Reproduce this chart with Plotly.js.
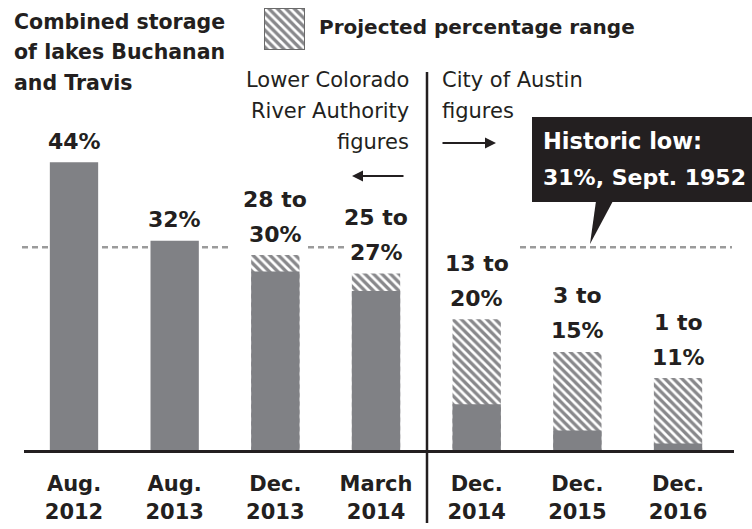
<!DOCTYPE html>
<html>
<head>
<meta charset="utf-8">
<script src="https://cdn.plot.ly/plotly-3.0.1.min.js"></script>
<style>
  html, body { margin: 0; padding: 0; background: #ffffff; }
  #chart { width: 752px; height: 529px; }
</style>
</head>
<body>
<div id="chart"></div>
<script>
// ---- data ----
const months = ['Aug.', 'Aug.', 'Dec.', 'March', 'Dec.', 'Dec.', 'Dec.'];
const years = ['2012', '2013', '2013', '2014', '2014', '2015', '2016'];
const solidValues = [44, 32, 27.3, 24.3, 7, 3, 1];           // solid part as drawn
const rangeTopValues = [null, null, 29.8, 27, 20, 15, 11];    // top of hatched projected range
const labelTop = ['', '', '28 to', '25 to', '13 to', '3 to', '1 to'];
const labelBottom = ['44%', '32%', '30%', '27%', '20%', '15%', '11%'];
const historicLow = 31;
const titleLines = ['Combined storage', 'of lakes Buchanan', 'and Travis'];
const legendSwatch = [1];

// ---- layout constants ----
const W = 752, H = 529;
const M = { l: 24, r: 18, t: 5, b: 79 };
const PW = W - M.l - M.r, PH = H - M.t - M.b;
const PX_PER_PCT = 6.54;
const FONT = 'DejaVu Sans';
const INK = '#231f20';
const SOLID = '#808185';

const X = px => (px - M.l) / PW;            // pixel -> paper x
const Y = py => (H - M.b - py) / PH;        // pixel -> paper y

const categories = months.map((m, i) => m + '<br>' + years[i]);

const hatched = {
  type: 'bar',
  x: categories,
  y: rangeTopValues,
  width: 0.48,
  marker: {
    color: SOLID,
    line: { width: 0 },
    pattern: { shape: '\\', fgcolor: '#ffffff', bgcolor: '#88888b', size: 6, solidity: 0.45 }
  },
  hoverinfo: 'skip',
  showlegend: false
};
const solid = {
  type: 'bar',
  x: categories,
  y: solidValues,
  width: 0.48,
  marker: { color: SOLID, line: { width: 0 } },
  hoverinfo: 'skip',
  showlegend: false
};
const swatch = {
  type: 'bar',
  x: [0],
  y: legendSwatch,
  width: 1,
  xaxis: 'x2',
  yaxis: 'y2',
  marker: {
    color: SOLID,
    line: { width: 2, color: '#6a6a6a' },
    pattern: { shape: '\\', fgcolor: '#ffffff', bgcolor: '#88888b', size: 6, solidity: 0.45 }
  },
  hoverinfo: 'skip',
  showlegend: false
};

const annotations = [];
// value labels
categories.forEach((c, i) => {
  const top = rangeTopValues[i] != null ? rangeTopValues[i] : solidValues[i];
  annotations.push({ x: i, y: top, xref: 'x', yref: 'y', text: labelBottom[i], showarrow: false,
    yanchor: 'middle', yshift: 21, font: { family: FONT, size: 22, weight: 'bold', color: INK } });
  if (labelTop[i]) {
    annotations.push({ x: i, y: top, xref: 'x', yref: 'y', text: labelTop[i], showarrow: false,
      yanchor: 'middle', yshift: 56, font: { family: FONT, size: 22, weight: 'bold', color: INK } });
  }
});

function textLine(text, px, py, anchor, size, weight, color) {
  annotations.push({ x: X(px), y: Y(py), xref: 'paper', yref: 'paper', text: text, showarrow: false,
    xanchor: anchor, yanchor: 'middle',
    font: { family: FONT, size: size, weight: weight, color: color || INK } });
}
// chart title (three lines, as in the reference)
[22, 52, 83].forEach((py, k) => textLine(titleLines[k], 12, py, 'left', 20.5, 'bold'));

textLine('Projected percentage range', 317, 27, 'left', 20, 'bold');
textLine('Lower Colorado', 411, 80, 'right', 21, 'normal');
textLine('River Authority', 411, 111, 'right', 21, 'normal');
textLine('figures', 411, 142, 'right', 21, 'normal');
textLine('City of Austin', 440, 80, 'left', 21, 'normal');
textLine('figures', 440, 111, 'left', 21, 'normal');
textLine('Historic low:', 541, 141, 'left', 22.5, 'bold', '#ffffff');
textLine('31%, Sept. 1952', 541, 177, 'left', 22, 'bold', '#ffffff');

// arrows
annotations.push({ x: X(352), y: Y(176), xref: 'paper', yref: 'paper', text: '', showarrow: true,
  ax: 53, ay: 0, arrowhead: 2, arrowsize: 1, arrowwidth: 2.2, arrowcolor: INK, standoff: 0 });
annotations.push({ x: X(496), y: Y(143), xref: 'paper', yref: 'paper', text: '', showarrow: true,
  ax: -55, ay: 0, arrowhead: 2, arrowsize: 1, arrowwidth: 2.2, arrowcolor: INK, standoff: 0 });

const dash = { color: '#9b9b9b', width: 2.5, dash: '6px,4px' };
const shapes = [
  { type: 'line', xref: 'paper', yref: 'y', x0: X(22), x1: X(232), y0: historicLow, y1: historicLow, line: dash, layer: 'below' },
  { type: 'line', xref: 'paper', yref: 'y', x0: X(308), x1: X(344), y0: historicLow, y1: historicLow, line: dash, layer: 'below' },
  { type: 'line', xref: 'paper', yref: 'y', x0: X(520), x1: X(732), y0: historicLow, y1: historicLow, line: dash, layer: 'below' },
  // divider between LCRA and City of Austin figures
  { type: 'line', xref: 'paper', yref: 'paper', x0: X(427), x1: X(427), y0: Y(72), y1: Y(523), line: { color: INK, width: 2.5 } },
  // callout box
  { type: 'rect', xref: 'paper', yref: 'paper', x0: X(532), x1: X(760), y0: Y(202), y1: Y(117), fillcolor: INK, line: { width: 0 } },
  { type: 'path', xref: 'paper', yref: 'paper',
    path: 'M' + X(596) + ',' + Y(201) + ' L' + X(590) + ',' + Y(244) + ' L' + X(613) + ',' + Y(201) + ' Z',
    fillcolor: INK, line: { width: 0 } }
];

const layout = {
  width: W, height: H,
  margin: M,
  paper_bgcolor: '#ffffff',
  plot_bgcolor: 'rgba(0,0,0,0)',
  barmode: 'overlay',
  showlegend: false,
  xaxis: {
    type: 'category',
    range: [-0.4967, 6.556],
    showgrid: false, zeroline: false,
    showline: true, linecolor: INK, linewidth: 3,
    ticks: '',
    ticklabelstandoff: 13,
    tickfont: { family: FONT, size: 21, weight: 'bold', color: INK },
    fixedrange: true
  },
  yaxis: {
    range: [0, PH / PX_PER_PCT],
    visible: false, showgrid: false, zeroline: false,
    fixedrange: true
  },
  xaxis2: { domain: [X(264), X(305)], anchor: 'y2', range: [-0.5, 0.5], visible: false, fixedrange: true },
  yaxis2: { domain: [Y(50), Y(8)], anchor: 'x2', range: [0, 1], visible: false, fixedrange: true },
  annotations: annotations,
  shapes: shapes
};

Plotly.newPlot('chart', [hatched, solid, swatch], layout, { displayModeBar: false, staticPlot: true });
</script>
</body>
</html>
